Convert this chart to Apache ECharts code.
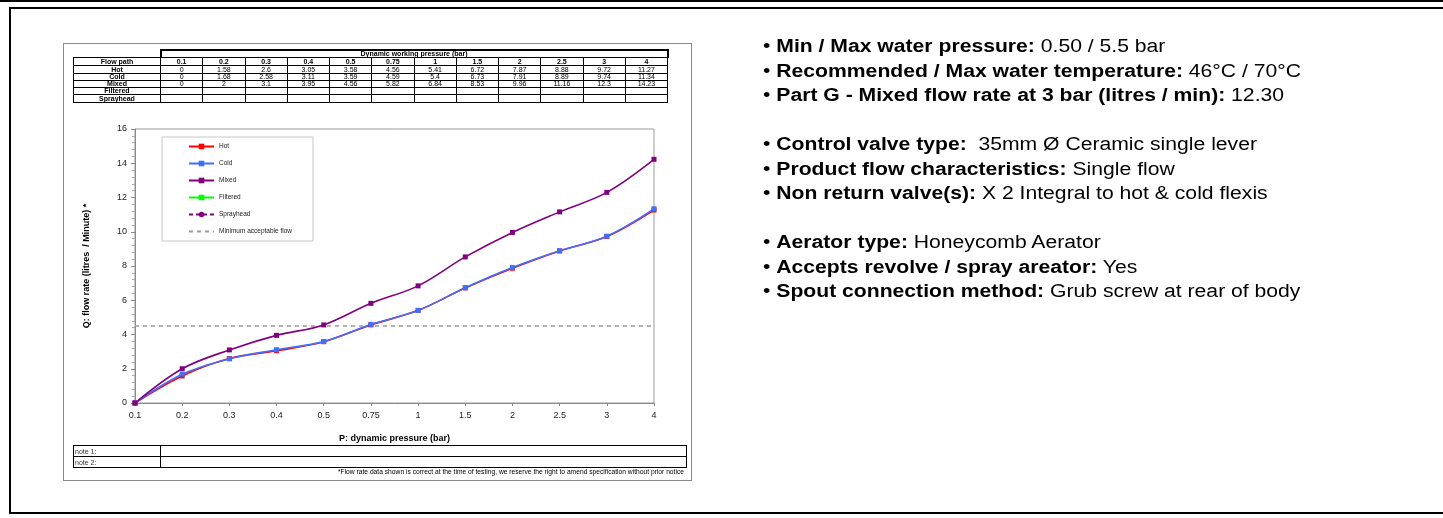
<!DOCTYPE html>
<html>
<head>
<meta charset="utf-8">
<script src="https://cdn.jsdelivr.net/npm/echarts@6/dist/echarts.min.js"></script>
<style>
  html, body { margin:0; padding:0; background:#fff; }
  body { width:1443px; height:518px; position:relative; overflow:hidden; font-family:"Liberation Sans", Arial, sans-serif; }
  #chart { position:absolute; left:0; top:0; width:1443px; height:518px; }
  .ov { position:absolute; pointer-events:none; box-sizing:border-box; }
  #topline { left:0; top:0; width:1443px; height:2px; background:#000; }
  #outer { left:9px; top:7px; width:1500px; height:507px; border:2px solid #000; }
  #inner { left:63px; top:43px; width:629px; height:438px; border:1px solid #8a8a8a; }
  table.data { position:absolute; border-collapse:collapse; table-layout:fixed; font-size:7px; color:#000; }
  table.data td { border:1px solid #000; text-align:center; padding:0; line-height:6px; overflow:hidden; white-space:nowrap; }
  table.data td.b { font-weight:bold; }
  table.data td.none { border:none; }
  #right { left:763px; top:34px; font-size:18px; line-height:24.5px; color:#000; white-space:nowrap; transform:scaleX(1.175); transform-origin:0 0; }
  #right b { font-weight:bold; }
  #foot { right:759px; top:468px; font-size:6.7px; color:#000; white-space:nowrap; }
</style>
</head>
<body>
<div id="chart"></div>
<div class="ov" id="topline"></div>
<div class="ov" id="outer"></div>
<div class="ov" id="inner"></div>
<div class="ov" id="tblwrap"></div>
<div class="ov" id="foot">*Flow rate data shown is correct at the time of testing, we reserve the right to amend specification without prior notice</div>
<div class="ov" id="right">
• <b>Min / Max water pressure:</b> 0.50 / 5.5 bar<br>
• <b>Recommended / Max water temperature:</b> 46°C / 70°C<br>
• <b>Part G - Mixed flow rate at 3 bar (litres / min):</b> 12.30<br>
<br>
• <b>Control valve type:</b>&nbsp; 35mm Ø Ceramic single lever<br>
• <b>Product flow characteristics:</b> Single flow<br>
• <b>Non return valve(s):</b> X 2 Integral to hot &amp; cold flexis<br>
<br>
• <b>Aerator type:</b> Honeycomb Aerator<br>
• <b>Accepts revolve / spray areator:</b> Yes<br>
• <b>Spout connection method:</b> Grub screw at rear of body
</div>
<script>
// ---- data ----
const pressures = ['0.1','0.2','0.3','0.4','0.5','0.75','1','1.5','2','2.5','3','4'];
const hot   = [0, 1.58, 2.6, 3.05, 3.58, 4.56, 5.41, 6.72, 7.87, 8.88, 9.72, 11.27];
const cold  = [0, 1.68, 2.58, 3.11, 3.59, 4.59, 5.4, 6.73, 7.91, 8.89, 9.74, 11.34];
const mixed = [0, 2, 3.1, 3.95, 4.56, 5.82, 6.84, 8.53, 9.96, 11.16, 12.3, 14.23];
const filtered = [];
const sprayhead = [];
const minAcceptable = 4.5;
const yTicks = [0, 2, 4, 6, 8, 10, 12, 14, 16];
const notes = ['note 1:', 'note 2:'];

const FONT = '"Liberation Sans", Arial, sans-serif';

// ---- data table (HTML) ----
(function buildTable(){
  const colW = 42.25, firstW = 87;
  let html = '<table class="data" style="left:73px;top:49px;width:' + (firstW + colW*12) + 'px">';
  html += '<colgroup><col style="width:' + firstW + 'px">';
  for (let i = 0; i < pressures.length; i++) html += '<col style="width:' + colW + 'px">';
  html += '</colgroup>';
  html += '<tr style="height:7px"><td class="none"></td><td class="b" colspan="12" style="border:2px solid #000;border-bottom:1px solid #000">Dynamic working pressure (bar)</td></tr>';
  html += '<tr style="height:8px"><td class="b">Flow path</td>' + pressures.map(p => '<td class="b">' + p + '</td>').join('') + '</tr>';
  const rows = [['Hot', hot, 8], ['Cold', cold, 7], ['Mixed', mixed, 7], ['Filtered', filtered, 7], ['Sprayhead', sprayhead, 8]];
  rows.forEach(([name, arr, h]) => {
    html += '<tr style="height:' + h + 'px"><td class="b">' + name + '</td>';
    for (let i = 0; i < pressures.length; i++) {
      html += '<td>' + (arr[i] !== undefined ? String(arr[i]) : '') + '</td>';
    }
    html += '</tr>';
  });
  html += '</table>';
  let nh = '<table class="data" style="left:73px;top:445px;width:613px;font-size:7px">';
  nh += '<colgroup><col style="width:87px"><col style="width:526px"></colgroup>';
  notes.forEach(n => { nh += '<tr style="height:11px"><td style="text-align:left;padding-left:1px;color:#333;line-height:9px">' + n + '</td><td></td></tr>'; });
  nh += '</table>';
  document.getElementById('tblwrap').innerHTML = html + nh;
})();

// ---- chart ----
const chart = echarts.init(document.getElementById('chart'), null, { renderer: 'canvas' });
const lineW = 1.6;
chart.setOption({
  animation: false,
  textStyle: { fontFamily: FONT },
  grid: { left: 135, top: 129, width: 519, height: 274, show: true, borderColor: '#9a9a9a', borderWidth: 1, containLabel: false },
  legend: {
    orient: 'vertical', left: 162, top: 137,
    padding: [6, 21, 6, 26], itemGap: 10, itemWidth: 25, itemHeight: 7,
    borderColor: '#c8c8c8', borderWidth: 1, backgroundColor: '#fff',
    textStyle: { fontSize: 6.5, color: '#222', fontFamily: FONT },
    data: ['Hot', 'Cold', 'Mixed', 'Filtered', 'Sprayhead',
      { name: 'Minimum acceptable flow', itemStyle: { opacity: 0 } }]
  },
  xAxis: {
    type: 'category', data: pressures, boundaryGap: false,
    name: 'P: dynamic pressure (bar)', nameLocation: 'middle', nameGap: 31,
    nameTextStyle: { fontSize: 9, fontWeight: 'bold', color: '#000', fontFamily: FONT },
    axisLine: { lineStyle: { color: '#8a8a8a' } },
    axisTick: { show: true, length: 3, lineStyle: { color: '#8a8a8a' } },
    axisLabel: { fontSize: 9, color: '#222', margin: 8, fontFamily: FONT },
    splitLine: { show: false }
  },
  yAxis: {
    type: 'value', min: yTicks[0], max: yTicks[yTicks.length - 1], interval: 2,
    name: 'Q: flow rate (litres  / Minute) *', nameLocation: 'middle', nameGap: 44,
    nameTextStyle: { fontSize: 9, fontWeight: 'bold', color: '#000', fontFamily: FONT },
    axisLine: { show: true, lineStyle: { color: '#8a8a8a' } },
    axisTick: { show: true, length: 4, lineStyle: { color: '#8a8a8a' } },
    minorTick: { show: true, splitNumber: 5, length: 3, lineStyle: { color: '#aaa' } },
    axisLabel: { fontSize: 9, color: '#222', margin: 8, fontFamily: FONT },
    splitLine: { show: false }
  },
  series: [
    { name: 'Hot', type: 'line', data: hot, smooth: 0.35, color: '#ff0000', symbol: 'rect', symbolSize: 5,
      lineStyle: { width: lineW, color: '#ff0000' }, itemStyle: { color: '#ff0000' } },
    { name: 'Cold', type: 'line', data: cold, smooth: 0.35, color: '#3f6fff', symbol: 'rect', symbolSize: 5,
      lineStyle: { width: lineW, color: '#3f6fff' }, itemStyle: { color: '#3f6fff' } },
    { name: 'Mixed', type: 'line', data: mixed, smooth: 0.35, color: '#800080', symbol: 'rect', symbolSize: 5,
      lineStyle: { width: lineW, color: '#800080' }, itemStyle: { color: '#800080' } },
    { name: 'Filtered', type: 'line', data: filtered, color: '#00ff00', symbol: 'rect', symbolSize: 5,
      lineStyle: { width: lineW, color: '#00ff00' }, itemStyle: { color: '#00ff00' } },
    { name: 'Sprayhead', type: 'line', data: sprayhead, color: '#800080', symbol: 'circle', symbolSize: 5,
      lineStyle: { width: lineW, color: '#800080', type: [4, 3] }, itemStyle: { color: '#800080' } },
    { name: 'Minimum acceptable flow', type: 'line', data: pressures.map(() => minAcceptable), color: '#999',
      symbol: 'none', lineStyle: { width: 1.5, color: '#9a9a9a', type: [4, 4] }, itemStyle: { color: '#9a9a9a' }, z: 1 }
  ]
});
</script>
</body>
</html>
